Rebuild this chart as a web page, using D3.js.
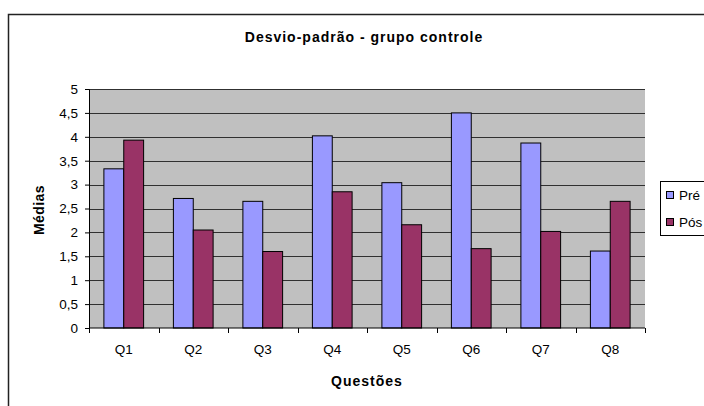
<!DOCTYPE html>
<html>
<head>
<meta charset="utf-8">
<script src="https://cdn.jsdelivr.net/npm/d3@7"></script>
<style>
  body { margin: 0; background: #fff; }
  svg { display: block; font-family: "Liberation Sans", Arial, sans-serif; }
</style>
</head>
<body>
<svg width="704" height="406"></svg>
<script>
var questoes = ['Q1', 'Q2', 'Q3', 'Q4', 'Q5', 'Q6', 'Q7', 'Q8']
var pre = [3.33, 2.71, 2.65, 4.02, 3.04, 4.5, 3.87, 1.61]
var pos = [3.93, 2.05, 1.60, 2.85, 2.16, 1.66, 2.02, 2.65]
var series = ['Pré', 'Pós']
var colors = ['#9999FF', '#993366']
var yTicks = [0, 0.5, 1, 1.5, 2, 2.5, 3, 3.5, 4, 4.5, 5]

var font = '"Liberation Sans", Arial, sans-serif'
var svg = d3.select('svg')

// chart border
svg.append('rect')
    .attr('x', 8.5).attr('y', 14.5)
    .attr('width', 720).attr('height', 420)
    .attr('fill', '#fff')
    .attr('stroke', '#222')
    .attr('stroke-width', 1.5)

var plotL = 89, plotR = 645, plotT = 89, plotB = 328

var mapX = d3.scaleBand().domain(questoes).range([plotL, plotR]).paddingInner(0).paddingOuter(0)
var mapY = d3.scaleLinear().domain([0, 5]).range([plotB, plotT])

// plot background
svg.append('rect')
    .attr('x', plotL).attr('y', plotT)
    .attr('width', plotR - plotL).attr('height', plotB - plotT)
    .attr('fill', '#C0C0C0')

// gridlines
svg.append('g')
    .selectAll('line')
    .data(yTicks.slice(1))
    .enter()
    .append('line')
    .attr('x1', plotL).attr('x2', plotR)
    .attr('y1', function(d){ return Math.round(mapY(d)) + 0.5 })
    .attr('y2', function(d){ return Math.round(mapY(d)) + 0.5 })
    .attr('stroke', '#000')
    .attr('stroke-opacity', 0.75)

// bars
var barW = mapX.bandwidth() / 3.5
var table = questoes.map(function(q, i){
    return { q: q, values: [pre[i], pos[i]] }
})

var groups = svg.selectAll('g.cat')
    .data(table)
    .enter()
    .append('g')
    .attr('class', 'cat')
    .attr('transform', function(d){
        return `translate(${mapX(d.q) + barW * 0.75}, 0)`
    })

groups.selectAll('rect')
    .data(function(d){ return d.values })
    .enter()
    .append('rect')
    .attr('x', function(d, i){ return i * barW })
    .attr('y', function(d){ return mapY(d) })
    .attr('width', barW)
    .attr('height', function(d){ return plotB - mapY(d) })
    .attr('fill', function(d, i){ return colors[i] })
    .attr('stroke', '#000')
    .attr('stroke-width', 1)

// y axis
var myAxisY = d3.axisLeft(mapY)
    .tickValues(yTicks)
    .tickSize(4)
    .tickPadding(7)
    .tickFormat(function(d){ return String(d).replace('.', ',') })

var gy = svg.append('g')
    .attr('transform', `translate(${plotL}, 0)`)
    .call(myAxisY)
gy.select('.domain').attr('stroke', '#000')
gy.selectAll('text').attr('font-size', 13.5).attr('fill', '#000').attr('font-family', font)

// x axis
var myAxisX = d3.axisBottom(mapX).tickSize(0).tickPadding(16)
var gx = svg.append('g')
    .attr('transform', `translate(0, ${plotB})`)
    .call(myAxisX)
gx.select('.domain').attr('d', `M${plotL},0H${plotR}`).attr('stroke', '#000')
gx.selectAll('text').attr('font-size', 13.5).attr('fill', '#000').attr('font-family', font)
gx.selectAll('line.sep')
    .data(questoes.concat(['end']))
    .enter()
    .append('line')
    .attr('class', 'sep')
    .attr('x1', function(d, i){ return Math.round(plotL + i * mapX.step()) + 0.5 })
    .attr('x2', function(d, i){ return Math.round(plotL + i * mapX.step()) + 0.5 })
    .attr('y1', 0).attr('y2', 5)
    .attr('stroke', '#000')

// title and axis labels
svg.append('text')
    .attr('x', 364).attr('y', 42)
    .attr('text-anchor', 'middle')
    .attr('font-size', 14).attr('font-weight', 'bold')
    .attr('letter-spacing', 1)
    .text('Desvio-padrão - grupo controle')

svg.append('text')
    .attr('x', 367).attr('y', 386)
    .attr('text-anchor', 'middle')
    .attr('font-size', 14).attr('font-weight', 'bold')
    .attr('letter-spacing', 1)
    .text('Questões')

svg.append('text')
    .attr('transform', 'translate(44, 210) rotate(-90)')
    .attr('text-anchor', 'middle')
    .attr('font-size', 14).attr('font-weight', 'bold')
    .attr('letter-spacing', 0.4)
    .text('Médias')

// legend
svg.append('rect')
    .attr('x', 660.5).attr('y', 181.5)
    .attr('width', 60).attr('height', 54)
    .attr('fill', '#fff').attr('stroke', '#000')

var items = svg.selectAll('g.leg')
    .data(series)
    .enter()
    .append('g')
    .attr('class', 'leg')
    .attr('transform', function(d, i){ return `translate(666, ${191 + i * 27})` })

items.append('rect')
    .attr('x', 0.5).attr('y', 0.5)
    .attr('width', 7).attr('height', 7)
    .attr('fill', function(d, i){ return colors[i] })
    .attr('stroke', '#000')

items.append('text')
    .attr('x', 13).attr('y', 9)
    .attr('font-size', 13.5)
    .text(function(d){ return d })
</script>
</body>
</html>
